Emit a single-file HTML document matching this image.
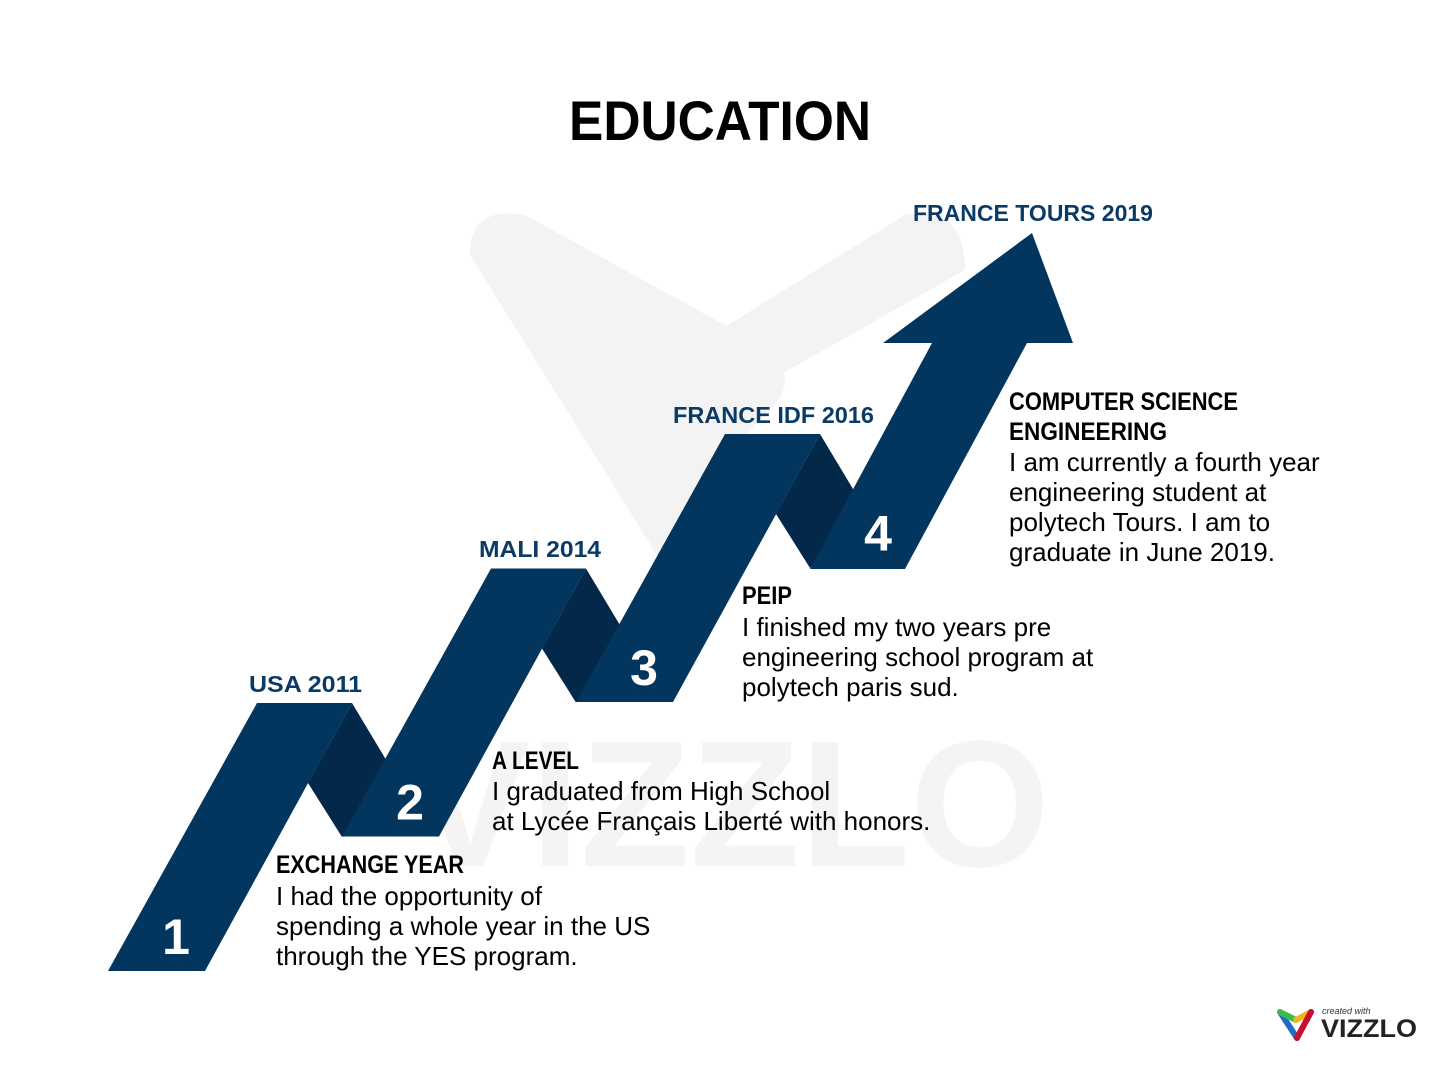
<!DOCTYPE html>
<html><head><meta charset="utf-8"><style>
html,body{margin:0;padding:0;background:#fff;width:1440px;height:1080px;overflow:hidden;font-family:"Liberation Sans",sans-serif}
</style></head><body>
<svg width="1440" height="1080" viewBox="0 0 1440 1080" xmlns="http://www.w3.org/2000/svg">
<g fill="#f3f3f3">
  <path d="M470,255 Q470,205 525,215 L770,350 Q800,380 770,410 L700,480 L660,560 Z"/>
  <path d="M720,330 L905,215 Q965,205 965,270 L700,420 Z"/>
  <text x="730" y="866" font-size="180" font-weight="bold" text-anchor="middle" fill="#f4f4f4">VIZZLO</text>
</g>
<text x="720" y="140" font-size="56" font-weight="bold" text-anchor="middle" fill="#000" textLength="302" lengthAdjust="spacingAndGlyphs">EDUCATION</text>
<g id="steps"></g>
<g font-size="26" fill="#000">
  <text x="276" y="873" font-size="25" font-weight="bold" textLength="188" lengthAdjust="spacingAndGlyphs">EXCHANGE YEAR</text>
  <text x="276" y="905">I had the opportunity of</text>
  <text x="276" y="935">spending a whole year in the US</text>
  <text x="276" y="965">through the YES program.</text>
  <text x="492" y="769" font-size="25" font-weight="bold" textLength="87" lengthAdjust="spacingAndGlyphs">A LEVEL</text>
  <text x="492" y="800">I graduated from High School</text>
  <text x="492" y="830">at Lycée Français Liberté with honors.</text>
  <text x="742" y="604" font-size="25" font-weight="bold" textLength="50" lengthAdjust="spacingAndGlyphs">PEIP</text>
  <text x="742" y="636">I finished my two years pre</text>
  <text x="742" y="666">engineering school program at</text>
  <text x="742" y="696">polytech paris sud.</text>
  <text x="1009" y="410" font-size="25" font-weight="bold" textLength="229" lengthAdjust="spacingAndGlyphs">COMPUTER SCIENCE</text>
  <text x="1009" y="440" font-size="25" font-weight="bold" textLength="158" lengthAdjust="spacingAndGlyphs">ENGINEERING</text>
  <text x="1009" y="471">I am currently a fourth year</text>
  <text x="1009" y="501">engineering student at</text>
  <text x="1009" y="531">polytech Tours. I am to</text>
  <text x="1009" y="561">graduate in June 2019.</text>
</g>
<g>
  <path d="M1280,1012 L1297,1038" stroke="#1e6fc4" stroke-width="6" stroke-linecap="round" fill="none"/>
  <path d="M1280,1012 L1296,1020" stroke="#3dbb4a" stroke-width="6" stroke-linecap="round" fill="none"/>
  <path d="M1296,1020 L1311,1012" stroke="#f7b21a" stroke-width="6" stroke-linecap="round" fill="none"/>
  <path d="M1311,1012 L1297,1038" stroke="#c8102e" stroke-width="6" stroke-linecap="round" fill="none"/>
  <text x="1322" y="1014" font-size="9" font-style="italic" fill="#333">created with</text>
  <text x="1321" y="1037" font-size="25" font-weight="bold" fill="#222" textLength="96" lengthAdjust="spacingAndGlyphs">VIZZLO</text>
</g>
</svg>
<script>
const stepLabels = ["USA 2011","MALI 2014","FRANCE IDF 2016","FRANCE TOURS 2019"];
const stepNumbers = ["1","2","3","4"];
const stepIndex = [0,1,2,3];
const svgNS="http://www.w3.org/2000/svg";
const g=document.getElementById('steps');
const DX=234, DY=-134.5;
function pt(k,x,y){return (x+DX*k)+','+(y+DY*k);}
function poly(points,fill,name){
  const p=document.createElementNS(svgNS,'polygon');
  p.setAttribute('points',points.join(' '));
  p.setAttribute('fill',fill);
  
  
  g.appendChild(p);
}
stepIndex.forEach(k=>{
  if(k<3){
    poly([pt(k,352,703),pt(k,400,783),pt(k,342,837),pt(k,308,783)],'#03284a','fold');
  }
});
stepIndex.forEach(k=>{
  if(k<3){
    poly([pt(k,108,971),pt(k,205,971),pt(k,352,703),pt(k,257,703)],'#03365e','ribbon-segment');
  }
});
poly(['810,569','905,569','1027,343','1073,343','1032,233','883,343','932,343'],'#03365e','arrow-segment');
stepIndex.forEach(k=>{
  const t=document.createElementNS(svgNS,'text');
  t.setAttribute('x',176+DX*k); t.setAttribute('y',954+DY*k);
  t.setAttribute('font-size','50'); t.setAttribute('font-weight','bold');
  t.setAttribute('fill','#fff'); t.setAttribute('text-anchor','middle');
  t.textContent=stepNumbers[k];
  
  
  g.appendChild(t);
  const l=document.createElementNS(svgNS,'text');
  const lx=[249,479,673,913][k], ly=[692,557,423,221][k];
  l.setAttribute('x',lx); l.setAttribute('y',ly);
  l.setAttribute('font-size','23'); l.setAttribute('font-weight','bold');
  l.setAttribute('fill','#0a3a66');
  l.setAttribute('textLength',[113,122,201,240][k]);
  l.setAttribute('lengthAdjust','spacingAndGlyphs');
  l.textContent=stepLabels[k];
  
  
  g.appendChild(l);
});
</script>
</body></html>
